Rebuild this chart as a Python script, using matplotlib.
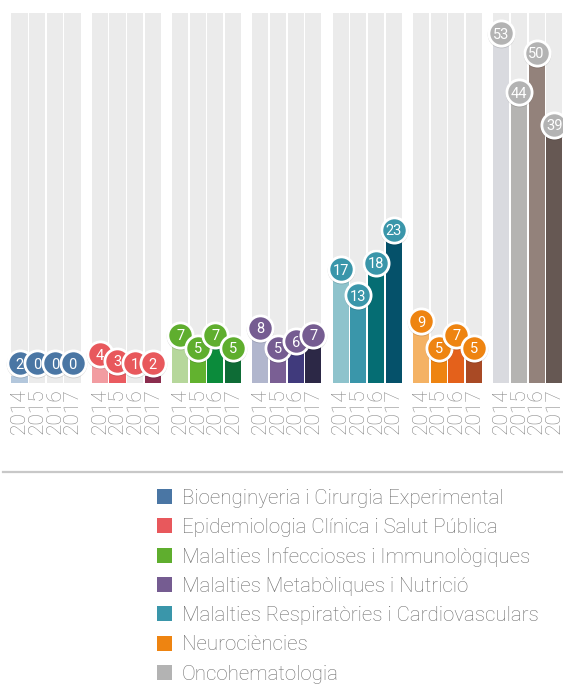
import matplotlib.pyplot as plt
from matplotlib.patches import Rectangle
import numpy as np

plt.rcParams['font.family'] = ['Roboto', 'DejaVu Sans']

years = ['2014', '2015', '2016', '2017']
areas = ['Bioenginyeria i Cirurgia Experimental',
         'Epidemiologia Clínica i Salut Pública',
         'Malalties Infeccioses i Immunològiques',
         'Malalties Metabòliques i Nutrició',
         'Malalties Respiratòries i Cardiovasculars',
         'Neurociències',
         'Oncohematologia']

bio = [2, 0, 0, 0]
epi = [4, 3, 1, 2]
infec = [7, 5, 7, 5]
metab = [8, 5, 6, 7]
resp = [17, 13, 18, 23]
neuro = [9, 5, 7, 5]
onco = [53, 44, 50, 39]
values = [bio, epi, infec, metab, resp, neuro, onco]

# colour per year inside each group, and the bubble / legend colour
bar_colors = [
    ['#b3c7dc', '#4a76a4', '#1b4f7e', '#213d60'],
    ['#f29ca1', '#ea5b60', '#b14a5f', '#8b2d4e'],
    ['#b6d79b', '#62b22f', '#0b8b3b', '#0e6c36'],
    ['#b1b6cd', '#7a5f94', '#403a7c', '#2c2846'],
    ['#8ec3cc', '#3a96aa', '#056d73', '#05516a'],
    ['#f4b264', '#ee8411', '#e4611b', '#a94a25'],
    ['#d9dadf', '#b5b4b2', '#93827b', '#665853'],
]
bubble_colors = ['#4a76a4', '#e8585c', '#5fae2e', '#755c91',
                 '#3a96aa', '#ee8411', '#b3b3b3']

W, H = 563, 684
fig = plt.figure(figsize=(W / 100, H / 100), dpi=100)
ax = fig.add_axes([0, (H - 383) / H, 1, 370 / H])

pitch = 0.22
width = 0.2
ymin, ymax = 1.0, 57.5

xs, labels = [], []
z = 3
for g, vals in enumerate(values):
    for i, v in enumerate(vals):
        x = g + i * pitch
        xs.append(x)
        labels.append(years[i])
        ax.bar(x, ymax - ymin, bottom=ymin, width=width, color='#ebebeb', zorder=1)
        ax.bar(x, v, width=width, color=bar_colors[g][i], zorder=2)
        ly = max(v + 1.4, 4.0)
        ax.scatter(x, ly - 0.15, s=400, color='#000000', alpha=0.12, lw=0, zorder=z)
        ax.scatter(x, ly, s=330, color=bubble_colors[g], edgecolors='white',
                   linewidths=2.0, zorder=z + 1)
        ax.text(x, ly, str(v), color='white', fontsize=10.5, ha='center',
                va='center_baseline', zorder=z + 2)
        z += 3

ax.set_xlim(-0.243, -0.243 + W / 80.3)
ax.set_ylim(ymin, ymax)
ax.set_xticks(xs)
ax.set_xticklabels(labels, rotation=90, fontsize=15, color='#858585',
                   fontweight='light')
ax.tick_params(axis='x', length=0, pad=4)
ax.set_yticks([])
for s in ax.spines.values():
    s.set_visible(False)
ax.patch.set_alpha(0)

# separator line
fig.add_artist(plt.Line2D([3 / W, 1], [(H - 472) / H] * 2, color='#c8c8c8', lw=1.6))

# legend
for k, name in enumerate(areas):
    yc = 496.5 + k * 29.3
    fig.add_artist(Rectangle((157 / W, (H - yc - 7.5) / H), 15 / W, 15 / H,
                             color=bubble_colors[k], lw=0))
    fig.text(182 / W, (H - yc) / H, name, fontsize=14.8, color='#6e6e6e',
             fontweight='light', va='center_baseline')

fig.savefig('out.png', dpi=100)
